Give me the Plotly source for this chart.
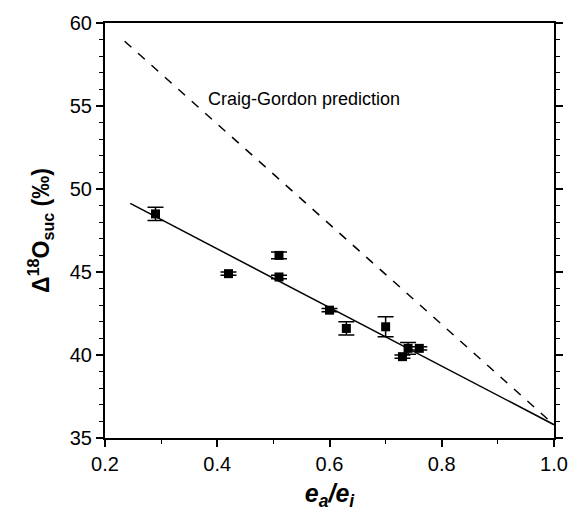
import plotly.graph_objects as go

# Data
ea_ei = [0.29, 0.42, 0.51, 0.51, 0.60, 0.63, 0.70, 0.73, 0.74, 0.76]
d18o = [48.5, 44.9, 46.0, 44.7, 42.7, 41.6, 41.7, 39.9, 40.4, 40.4]
d18o_err = [0.4, 0.1, 0.2, 0.1, 0.1, 0.4, 0.6, 0.1, 0.35, 0.1]

fit_x = [0.245, 1.0]
fit_y = [49.13, 35.8]

cg_x = [0.235, 1.0]
cg_y = [58.9, 35.8]

label_text = "Craig-Gordon prediction"
label_x = 0.38
label_y = 55.45

x_ticks = [0.2, 0.4, 0.6, 0.8, 1.0]
x_ticklabels = ["0.2", "0.4", "0.6", "0.8", "1.0"]
y_ticks = [35, 40, 45, 50, 55, 60]

fig = go.Figure()

fig.add_trace(go.Scatter(
    x=cg_x, y=cg_y, mode="lines",
    line=dict(color="black", width=1.5, dash="dash"),
    showlegend=False, hoverinfo="skip"))

fig.add_trace(go.Scatter(
    x=fit_x, y=fit_y, mode="lines",
    line=dict(color="black", width=1.5),
    showlegend=False, hoverinfo="skip"))

fig.add_trace(go.Scatter(
    x=ea_ei, y=d18o, mode="markers",
    marker=dict(symbol="square", size=9, color="black"),
    error_y=dict(type="data", array=d18o_err, visible=True,
                 color="black", thickness=1.5, width=8),
    showlegend=False))

fig.add_annotation(x=label_x, y=label_y, text=label_text, showarrow=False,
                   xanchor="left", yanchor="middle",
                   font=dict(family="Liberation Sans, Arial", size=18, color="black"))

fig.update_layout(
    width=580, height=517,
    margin=dict(l=105, r=22, t=15, b=79),
    paper_bgcolor="white", plot_bgcolor="white",
    font=dict(family="Liberation Sans, Arial", size=20, color="black"),
    xaxis=dict(
        range=[0.2, 1.0], tickvals=x_ticks, ticktext=x_ticklabels,
        showgrid=False, zeroline=False,
        showline=True, linecolor="black", linewidth=2, mirror=True,
        ticks="outside", ticklen=7, tickwidth=1.5, tickcolor="black",
        minor=dict(dtick=0.1, ticks="outside", ticklen=4, tickwidth=1.2, tickcolor="black"),
        title=dict(text="<b><i>e<sub>a</sub>/e<sub>i</sub></i></b>",
                   font=dict(size=25), standoff=10),
    ),
    yaxis=dict(
        range=[35, 60], tickvals=y_ticks,
        showgrid=False, zeroline=False,
        showline=True, linecolor="black", linewidth=2, mirror="ticks",
        ticks="outside", ticklen=7, tickwidth=1.5, tickcolor="black",
        minor=dict(dtick=1, ticks="outside", ticklen=4, tickwidth=1.2, tickcolor="black"),
        title=dict(text="<b>Δ<sup>18</sup>O<sub>suc</sub> (‰)</b>",
                   font=dict(size=23), standoff=14),
    ),
)

fig.write_html("out.html")
